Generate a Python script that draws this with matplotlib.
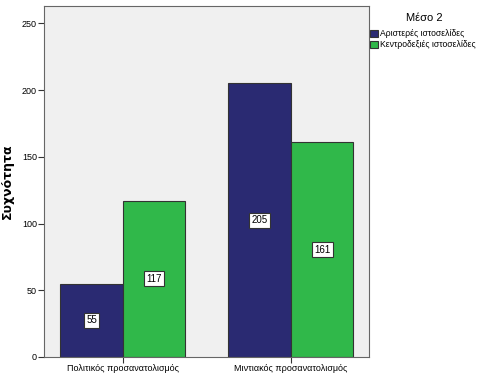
import numpy as np
import matplotlib.pyplot as plt
from matplotlib.patches import Patch

categories = ['Πολιτικός προσανατολισμός', 'Μιντιακός προσανατολισμός']
series = ['Αριστερές ιστοσελίδες', 'Κεντροδεξιές ιστοσελίδες']
left_vals = [55, 205]
right_vals = [117, 161]
colors = ['#2a2a72', '#30b84a']

plt.rcParams['font.family'] = ['Liberation Sans', 'DejaVu Sans']

fig = plt.figure(figsize=(4.86, 3.78), dpi=100)
ax = fig.add_axes([0.0905, 0.0556, 0.6685, 0.9284])
ax.set_facecolor('#f0f0f0')

x = np.arange(len(categories))
w = 0.372
for off, vals, c in [(-w / 2, left_vals, colors[0]), (w / 2, right_vals, colors[1])]:
    bars = ax.bar(x + off, vals, w, color=c, edgecolor='#333333', linewidth=0.8)
    for b, v in zip(bars, vals):
        ax.text(b.get_x() + b.get_width() / 2, v / 2, str(v), ha='center', va='center',
                fontsize=7, bbox=dict(boxstyle='square,pad=0.25', fc='white', ec='#333333', lw=0.8))

ax.set_xlim(-0.47, 1.464)
ax.set_ylim(0, 263)
ax.set_yticks([0, 50, 100, 150, 200, 250])
ax.set_xticks(x)
ax.set_xticklabels(categories)
ax.tick_params(labelsize=6.5, direction='out', length=4, color='#333333', pad=1)
for s in ax.spines.values():
    s.set_color('#666666')
ax.set_ylabel('Συχνότητα', fontsize=9, fontweight='bold', labelpad=6, family='DejaVu Sans')

handles = [Patch(facecolor=c, edgecolor='#333333', linewidth=0.8) for c in colors]
fig.text(0.873, 0.953, 'Μέσο 2', ha='center', va='center', fontsize=8)
fig.legend(handles, series, loc='upper left', bbox_to_anchor=(0.762, 0.922),
           frameon=False, fontsize=6.2, handlelength=0.9, handleheight=0.9,
           handletextpad=0.2, borderaxespad=0, borderpad=0, labelspacing=0.2)

fig.savefig('out.png', dpi=100)
